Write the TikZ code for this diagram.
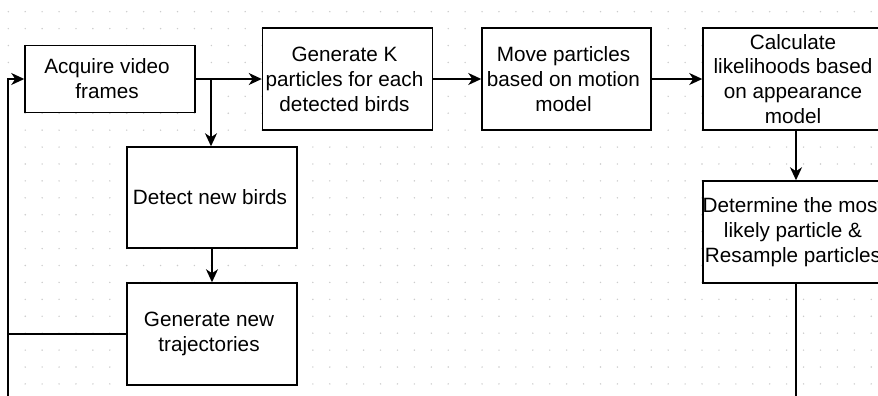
\documentclass[tikz,border=0pt]{standalone}
\usepackage{fontspec}
\setmainfont{Liberation Sans}
\usetikzlibrary{arrows.meta}
\begin{document}
\begin{tikzpicture}[x=1pt,y=-1pt,
  box/.style={draw=black, fill=white, line width=1.5pt, inner sep=0pt},
  txt/.style={align=center, inner sep=0pt, font=\fontsize{20.7}{24.9}\selectfont},
  conn/.style={line width=1.5pt, draw=black},
  arr/.style={conn, -{Stealth[length=13pt,width=12pt,inset=4pt]}}]
\useasboundingbox (0,0) rectangle (878,396);
\clip (0,0) rectangle (878,396);
\fill[white] (0,0) rectangle (878,396);
% dotted grid
\foreach \i in {0,...,52}{
  \foreach \j in {0,...,23}{
    \fill[black!20] ({8.3+16.92*\i},{11.7+16.92*\j}) circle (0.8);
  }
}
% boxes
\node[box, minimum width=170, minimum height=67] (A) at (110,79) {};
\node[box, minimum width=170, minimum height=102] (B) at (347.5,79) {};
\node[box, minimum width=169, minimum height=102] (C) at (566.5,79) {};
\node[box, minimum width=186, minimum height=102] (D) at (796,79) {};
\node[box, minimum width=186, minimum height=102] (E) at (796,232) {};
\node[box, minimum width=170, minimum height=101] (F) at (212,197.5) {};
\node[box, minimum width=170, minimum height=102] (G) at (212,334) {};
% texts
\node[txt] (At) at ([xshift=-3]A.center) {Acquire video\\frames};
\node[txt] (Bt) at ([xshift=-3]B.center) {Generate K\\particles for each\\detected birds};
\node[txt] (Ct) at ([xshift=-3]C.center) {Move particles\\based on motion\\model};
\node[txt] (Dt) at ([xshift=-3]D.center) {Calculate\\likelihoods based\\on appearance\\model};
\node[txt] (Et) at ([xshift=-3]E.center) {Determine the most\\likely particle \&\\Resample particles};
\node[txt] (Ft) at ([xshift=-2]F.center) {Detect new birds};
\node[txt] (Gt) at ([xshift=-3]G.center) {Generate new\\trajectories};
% helper coordinates
\coordinate (split) at (211,79);
\coordinate (loopbot) at (8,420);
\coordinate (looptop) at (8,79);
\coordinate (loopmid) at (8,334);
\coordinate (Eout) at (796,420);
% connectors
\draw[arr] (A.east) -- (B.west);
\draw[arr] (split) -- (split |- F.north);
\draw[arr] (B.east) -- (C.west);
\draw[arr] (C.east) -- (C.east -| D.west);
\draw[arr] (D.south) -- (E.north);
\draw[arr] (F.south) -- (G.north);
\draw[conn] (E.south) -- (Eout);
\draw[conn] (G.west) -- (loopmid);
\draw[arr] (loopbot) -- (looptop) -- (A.west);
\end{tikzpicture}
\end{document}
